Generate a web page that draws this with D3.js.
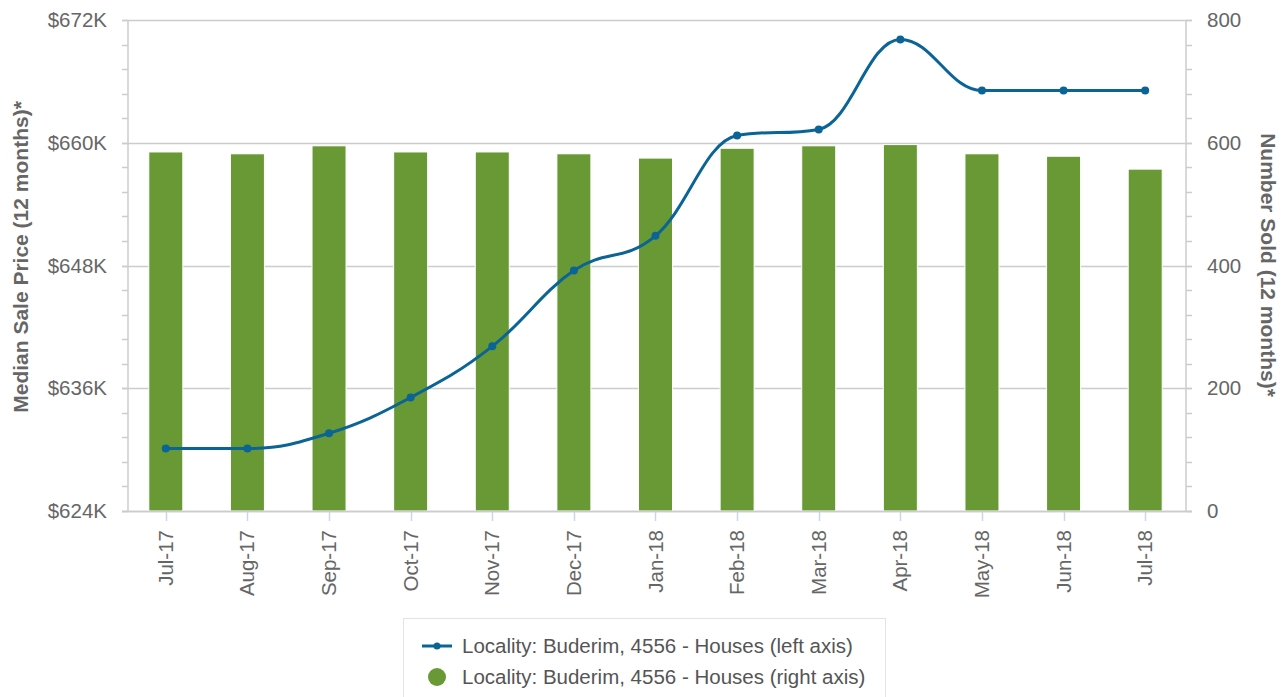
<!DOCTYPE html>
<html>
<head>
<meta charset="utf-8">
<script src="https://cdn.jsdelivr.net/npm/d3@7"></script>
<style>
  body { margin: 0; background: #fff; font-family: "Liberation Sans", Arial, sans-serif; }
  svg text { fill: #666; }
</style>
</head>
<body>
<svg id="chart" width="1288" height="697"></svg>
<script>
// data
var months = ["Jul-17","Aug-17","Sep-17","Oct-17","Nov-17","Dec-17","Jan-18","Feb-18","Mar-18","Apr-18","May-18","Jun-18","Jul-18"];
var medianPrice = [630.1, 630.1, 631.6, 635.1, 640.1, 647.5, 650.9, 660.7, 661.3, 670.1, 665.1, 665.1, 665.1]; // $K, left axis
var numberSold = [585, 582, 595, 585, 585, 582, 575, 591, 595, 597, 582, 578, 557]; // right axis
var leftTicks = [624, 636, 648, 660, 672];
var rightTicks = [0, 200, 400, 600, 800];
var seriesName = "Locality: Buderim, 4556 - Houses";

var svg = d3.select('#chart');
var plotTop = 20, plotBottom = 511, plotLeft = 128, plotRight = 1186;

var x = d3.scaleBand().domain(months).range([125, 1186]);
var yL = d3.scaleLinear().domain([624, 672]).range([plotBottom, plotTop]);
var yR = d3.scaleLinear().domain([0, 800]).range([plotBottom, plotTop]);

var lineColor = '#0a6496', barColor = '#689934', gridColor = '#cccccc';
var tickFont = '20.5px';

function cx(i){ return x(months[i]) + x.bandwidth()/2; }

// spline like the original charting lib (smoothing 1.5, flat at extremes)
function splinePath(pts) {
  var sm = 1.5, den = sm + 1;
  var path = 'M' + pts[0][0] + ',' + pts[0][1];
  var prevR = [pts[0][0], pts[0][1]];
  for (var i = 1; i < pts.length; i++) {
    var px = pts[i][0], py = pts[i][1];
    var lx = px, ly = py, rx = px, ry = py;
    var last = pts[i-1], next = pts[i+1];
    if (next) {
      lx = (sm*px + last[0])/den; ly = (sm*py + last[1])/den;
      rx = (sm*px + next[0])/den; ry = (sm*py + next[1])/den;
      var corr = ((ry - ly) * (rx - px)) / (rx - lx) + py - ry;
      ly += corr; ry += corr;
      if (ly > last[1] && ly > py) { ly = Math.max(last[1], py); ry = 2*py - ly; }
      else if (ly < last[1] && ly < py) { ly = Math.min(last[1], py); ry = 2*py - ly; }
      if (ry > next[1] && ry > py) { ry = Math.max(next[1], py); ly = 2*py - ry; }
      else if (ry < next[1] && ry < py) { ry = Math.min(next[1], py); ly = 2*py - ry; }
    }
    path += 'C' + prevR[0] + ',' + prevR[1] + ',' + lx + ',' + ly + ',' + px + ',' + py;
    prevR = [rx, ry];
  }
  return path;
}

// gridlines
svg.append('g').selectAll('line')
  .data(leftTicks)
  .enter().append('line')
  .attr('x1', plotLeft - 6).attr('x2', plotRight + 6)
  .attr('y1', function(d){ return Math.round(yL(d)) + 0.5; })
  .attr('y2', function(d){ return Math.round(yL(d)) + 0.5; })
  .attr('stroke', gridColor).attr('stroke-width', 1.5);

// minor ticks left
svg.append('g').selectAll('line')
  .data(d3.range(624, 672.01, 2.4))
  .enter().append('line')
  .attr('x1', plotLeft - 6).attr('x2', plotLeft)
  .attr('y1', function(d){ return Math.round(yL(d)) + 0.5; })
  .attr('y2', function(d){ return Math.round(yL(d)) + 0.5; })
  .attr('stroke', gridColor).attr('stroke-width', 1.5);

// minor ticks right
svg.append('g').selectAll('line')
  .data(d3.range(0, 800.01, 40))
  .enter().append('line')
  .attr('x1', plotRight).attr('x2', plotRight + 6)
  .attr('y1', function(d){ return Math.round(yR(d)) + 0.5; })
  .attr('y2', function(d){ return Math.round(yR(d)) + 0.5; })
  .attr('stroke', gridColor).attr('stroke-width', 1.5);

// axis lines
svg.append('line').attr('x1', plotLeft).attr('x2', plotLeft).attr('y1', plotTop).attr('y2', plotBottom)
  .attr('stroke', gridColor).attr('stroke-width', 1.5);
svg.append('line').attr('x1', plotRight).attr('x2', plotRight).attr('y1', plotTop).attr('y2', plotBottom)
  .attr('stroke', gridColor).attr('stroke-width', 1.5);

// x ticks
svg.append('g').selectAll('line')
  .data(months)
  .enter().append('line')
  .attr('x1', function(d, i){ return Math.round(cx(i)) + 0.5; })
  .attr('x2', function(d, i){ return Math.round(cx(i)) + 0.5; })
  .attr('y1', plotBottom).attr('y2', plotBottom + 10)
  .attr('stroke', '#ccd6eb').attr('stroke-width', 1.5);

// bars
var barW = 34;
svg.append('g').selectAll('rect')
  .data(numberSold)
  .enter().append('rect')
  .attr('x', function(d, i){ return cx(i) - barW/2; })
  .attr('y', function(d){ return yR(d); })
  .attr('width', barW)
  .attr('height', function(d){ return plotBottom - yR(d); })
  .attr('fill', barColor)
  .attr('stroke', '#ffffff').attr('stroke-width', 1);

// bottom axis line
svg.append('line').attr('x1', plotLeft - 6).attr('x2', plotRight + 6)
  .attr('y1', plotBottom + 0.5).attr('y2', plotBottom + 0.5)
  .attr('stroke', gridColor).attr('stroke-width', 1.5);

// line
var pts = medianPrice.map(function(d, i){ return [cx(i), yL(d)]; });
svg.append('path')
  .attr('d', splinePath(pts))
  .attr('fill', 'none')
  .attr('stroke', lineColor)
  .attr('stroke-width', 3);

svg.append('g').selectAll('circle')
  .data(medianPrice)
  .enter().append('circle')
  .attr('cx', function(d, i){ return cx(i); })
  .attr('cy', function(d){ return yL(d); })
  .attr('r', 4)
  .attr('fill', lineColor);

// tick labels
svg.append('g').selectAll('text')
  .data(leftTicks)
  .enter().append('text')
  .attr('x', 107).attr('y', function(d){ return yL(d) + 7; })
  .attr('text-anchor', 'end')
  .style('font-size', tickFont)
  .text(function(d){ return '$' + d + 'K'; });

svg.append('g').selectAll('text')
  .data(rightTicks)
  .enter().append('text')
  .attr('x', 1207).attr('y', function(d){ return yR(d) + 7; })
  .attr('text-anchor', 'start')
  .style('font-size', tickFont)
  .text(function(d){ return d; });

svg.append('g').selectAll('text')
  .data(months)
  .enter().append('text')
  .attr('transform', function(d, i){ return 'translate(' + (cx(i) + 7) + ',' + 530 + ') rotate(-90)'; })
  .attr('text-anchor', 'end')
  .style('font-size', tickFont)
  .text(function(d){ return d; });

// axis titles
svg.append('text')
  .attr('transform', 'translate(28,257) rotate(-90)')
  .attr('text-anchor', 'middle')
  .style('font-size', '21px').style('font-weight', 'bold')
  .text('Median Sale Price (12 months)*');

svg.append('text')
  .attr('transform', 'translate(1261,265) rotate(90)')
  .attr('text-anchor', 'middle')
  .style('font-size', '21px').style('font-weight', 'bold')
  .text('Number Sold (12 months)*');

// legend
var lg = svg.append('g');
lg.append('rect')
  .attr('x', 403.5).attr('y', 618.5).attr('width', 482).attr('height', 90)
  .attr('fill', '#fff').attr('stroke', '#e3e3e3').attr('stroke-width', 1);
lg.append('line').attr('x1', 422).attr('x2', 452).attr('y1', 646).attr('y2', 646)
  .attr('stroke', lineColor).attr('stroke-width', 3);
lg.append('circle').attr('cx', 437).attr('cy', 646).attr('r', 3.5).attr('fill', lineColor);
lg.append('text').attr('x', 462).attr('y', 653).style('font-size', tickFont).style('fill', '#555')
  .text(seriesName + ' (left axis)');
lg.append('circle').attr('cx', 437).attr('cy', 677).attr('r', 9).attr('fill', barColor);
lg.append('text').attr('x', 462).attr('y', 684).style('font-size', tickFont).style('fill', '#555')
  .text(seriesName + ' (right axis)');
</script>
</body>
</html>
